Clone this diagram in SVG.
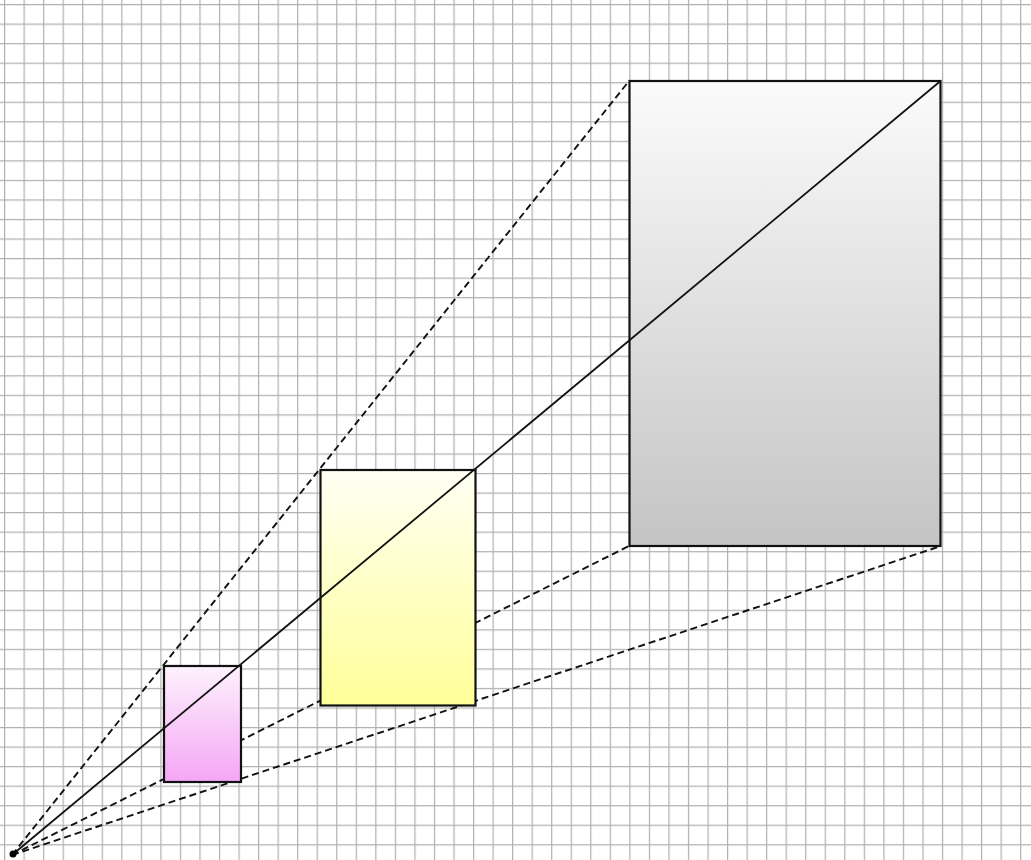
<svg xmlns="http://www.w3.org/2000/svg" width="1031" height="860" viewBox="0 0 1031 860">
<style>
.dash{stroke:#111;stroke-width:1.9;stroke-dasharray:7 4;fill:none}
.solid{stroke:#111;stroke-width:1.8;fill:none}
.box{stroke:#111;stroke-width:2.2}
</style>
<defs>
<pattern id="grid" x="4" y="4" width="19.54" height="19.54" patternUnits="userSpaceOnUse">
<path d="M0 0 V19.54 M0 0 H19.54" stroke="#b0b0b0" stroke-width="2.4" fill="none"/>
</pattern>
<linearGradient id="gPink" x1="0" y1="0" x2="0" y2="1">
<stop offset="0" stop-color="#fdf2fd"/>
<stop offset="1" stop-color="#f5a6f5"/>
</linearGradient>
<linearGradient id="gYellow" x1="0" y1="0" x2="0" y2="1">
<stop offset="0" stop-color="#fffff4"/>
<stop offset="1" stop-color="#ffff98"/>
</linearGradient>
<linearGradient id="gGray" x1="0" y1="0" x2="0" y2="1">
<stop offset="0" stop-color="#fbfbfb"/>
<stop offset="1" stop-color="#c4c4c4"/>
</linearGradient>
</defs>
<rect width="1031" height="860" fill="#ffffff"/>
<rect width="1031" height="860" fill="url(#grid)"/>
<g id="connectors-dashed">
<line class="dash" x1="12" y1="855" x2="629" y2="81"/>
<line class="dash" x1="12" y1="855" x2="629" y2="546"/>
<line class="dash" x1="12" y1="855" x2="941" y2="546"/>
</g>
<g id="node-pink"><rect class="box" x="164" y="666" width="77" height="116" fill="url(#gPink)"/></g>
<g id="node-yellow"><rect class="box" x="320.5" y="470" width="155" height="235.5" fill="url(#gYellow)"/></g>
<g id="node-gray"><rect class="box" x="629.5" y="81" width="311" height="465" fill="url(#gGray)"/></g>
<g id="connectors">
<line class="solid" x1="12" y1="855" x2="940.5" y2="81"/>
</g>
<g id="origin"><circle cx="13" cy="854" r="3.5" fill="#000"/></g>
</svg>
